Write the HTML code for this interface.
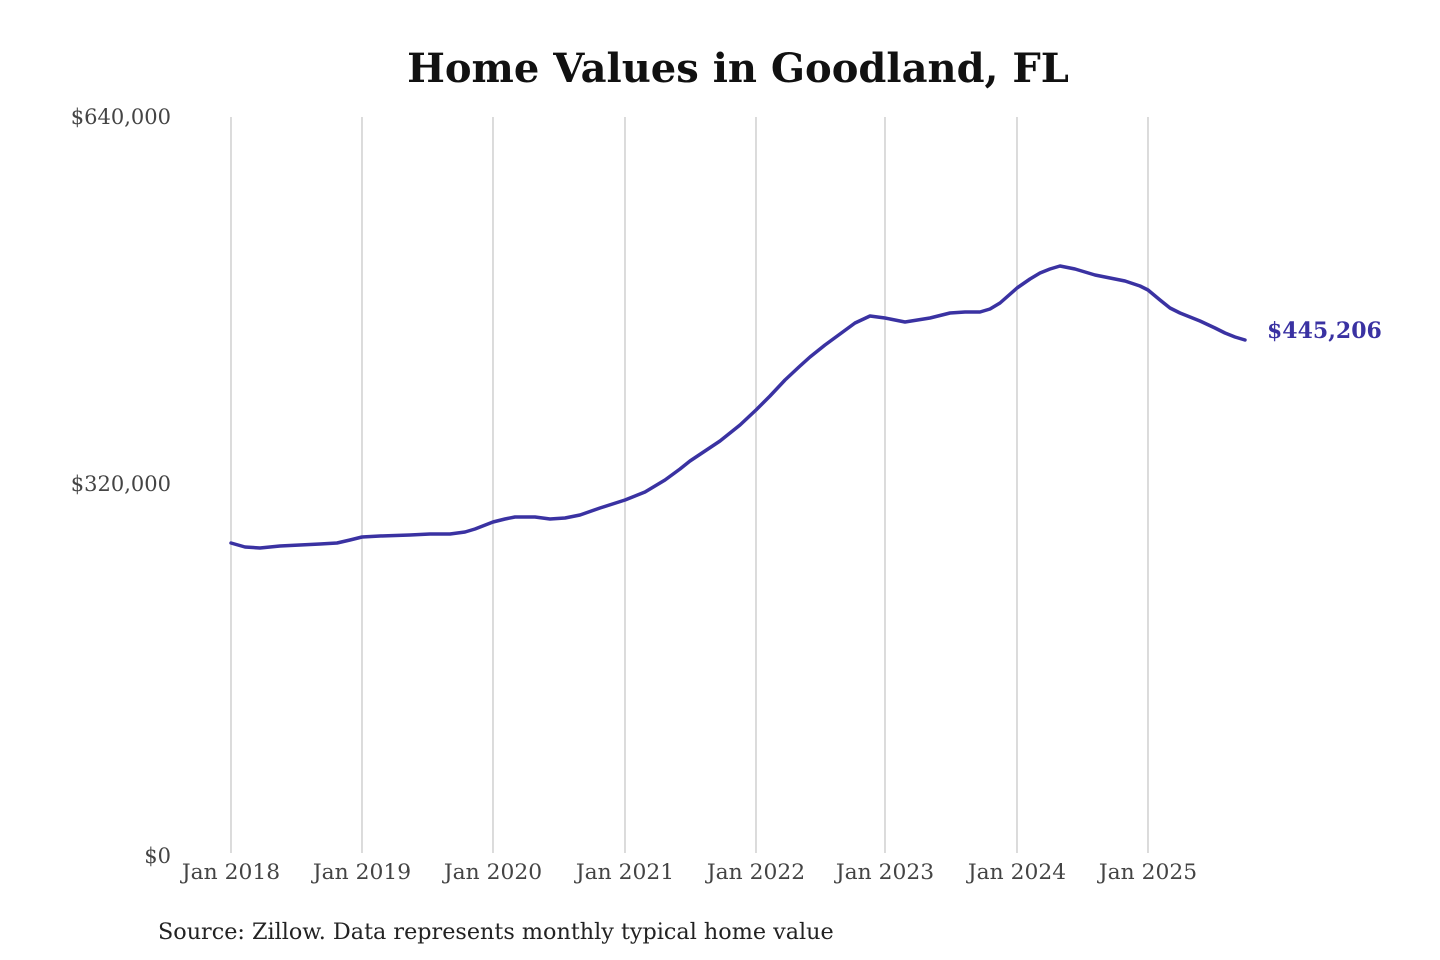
<!DOCTYPE html>
<html><head><meta charset="utf-8"><style>
html,body{margin:0;padding:0;background:#fff;}
svg{display:block;}
</style></head><body>
<svg width="1440" height="960" viewBox="0 0 1440 960" xmlns="http://www.w3.org/2000/svg" font-family="'DejaVu Serif','Liberation Serif',serif">
<rect width="1440" height="960" fill="#fff"/>
<text x="738" y="82" text-anchor="middle" font-size="40" font-weight="bold" fill="#111">Home Values in Goodland, FL</text>
<g stroke="#c8c8c8" stroke-width="1.3">
<line x1="231" y1="117" x2="231" y2="853"/>
<line x1="362" y1="117" x2="362" y2="853"/>
<line x1="493" y1="117" x2="493" y2="853"/>
<line x1="625" y1="117" x2="625" y2="853"/>
<line x1="756" y1="117" x2="756" y2="853"/>
<line x1="885" y1="117" x2="885" y2="853"/>
<line x1="1017" y1="117" x2="1017" y2="853"/>
<line x1="1148" y1="117" x2="1148" y2="853"/>
</g>
<g font-size="21" fill="#444" text-anchor="end">
<text x="171" y="124">$640,000</text>
<text x="171" y="491">$320,000</text>
<text x="171" y="863">$0</text>
</g>
<g font-size="21.8" fill="#444" text-anchor="middle">
<text x="231" y="879">Jan 2018</text>
<text x="362" y="879">Jan 2019</text>
<text x="493" y="879">Jan 2020</text>
<text x="625" y="879">Jan 2021</text>
<text x="756" y="879">Jan 2022</text>
<text x="885" y="879">Jan 2023</text>
<text x="1017" y="879">Jan 2024</text>
<text x="1148" y="879">Jan 2025</text>
</g>
<polyline fill="none" stroke="#3a32a2" stroke-width="3.5" stroke-linejoin="round" stroke-linecap="round"
points="231,543 245,547 260,548 280,546 300,545 320,544 337,543 350,540 362,537 380,536 410,535 430,534 450,534 465,532 475,529 493,522 505,519 515,517 535,517 550,519 565,518 580,515 600,508 625,500 645,492 665,480 680,469 690,461 705,451 720,441 740,425 756,410 770,396 785,380 800,366 810,357 825,345 840,334 855,323 870,316 885,318 905,322 930,318 950,313 965,312 980,312 990,309 1000,303 1017,288 1030,279 1040,273 1050,269 1060,266 1075,269 1095,275 1110,278 1125,281 1140,286 1148,290 1160,300 1170,308 1180,313 1200,321 1215,328 1225,333 1235,337 1245,340"/>
<text x="1267" y="338" font-size="22" font-weight="bold" fill="#3a32a2">$445,206</text>
<text x="158" y="939" font-size="22.3" fill="#222">Source: Zillow. Data represents monthly typical home value</text>
</svg>
</body></html>
